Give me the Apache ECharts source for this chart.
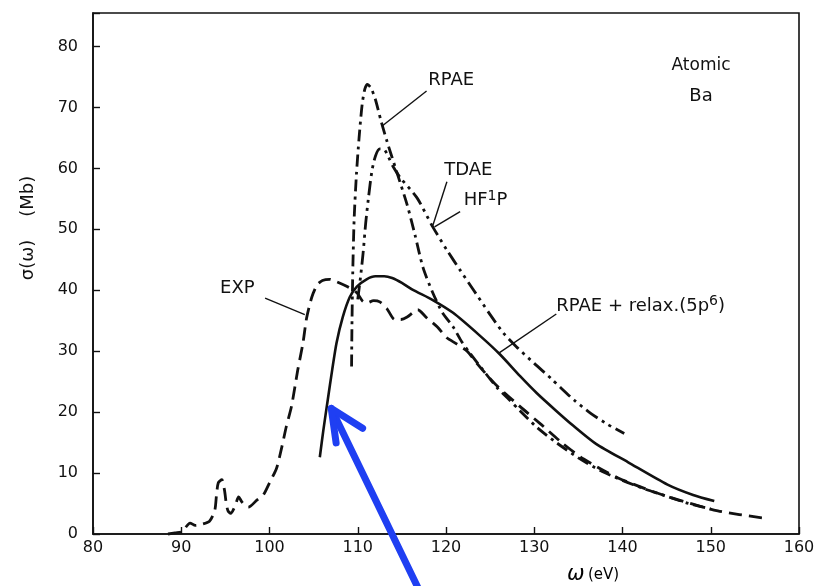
<!DOCTYPE html>
<html><head><meta charset="utf-8">
<script src="https://cdn.jsdelivr.net/npm/echarts@6/dist/echarts.min.js"></script>
<style>html,body{margin:0;padding:0;background:#fff}#c{width:819px;height:586px}</style>
</head><body><div id="c"></div>
<script>
// ---- data ----
const xTickValues = [80, 90, 100, 110, 120, 130, 140, 150, 160];
const yTickValues = [0, 10, 20, 30, 40, 50, 60, 70, 80];

const expData = [[88.5,0],[89.3,0.2],[90.1,0.4],[91,1.8],[91.6,1.4],[92.1,1.5],[93.2,2.1],[93.8,3.9],[94.0,6.5],[94.2,8.4],[94.6,8.9],[94.9,7.2],[95.1,5],[95.3,3.8],[95.6,3.4],[96.1,4.6],[96.5,6.1],[96.9,5.2],[97.6,4.4],[98.6,5.6],[99.3,6.4],[100,8.4],[100.8,10.8],[101.4,14.3],[101.9,17.6],[102.5,21],[103.2,26.9],[103.8,31.4],[104.2,35.4],[104.8,38.9],[105.4,40.9],[106.0,41.6],[106.8,41.8],[107.6,41.4],[108.8,40.6],[109.9,39.6],[110.5,38.3],[111,37.9],[111.8,38.3],[112.5,38.1],[113.3,37],[114.2,35.2],[114.9,35.2],[115.6,35.6],[116.8,36.8],[117.8,35.5],[119,34],[120.1,32.2],[121.2,31.2],[122.4,30],[123.5,28],[125,25.5],[126,24],[128.4,20.9],[130.6,18.2],[133.2,14.9],[135.6,12.3],[139.5,9.2],[144.8,6.3],[150.8,3.8],[156.1,2.6]];

const rpaeData = [[109.3,27.5],[109.35,35],[109.45,44],[109.6,52],[109.85,59],[110.15,65],[110.5,70.5],[110.8,73],[111.1,73.8],[111.5,73.2],[112.0,71.3],[112.6,68],[113.3,64.5],[114.4,59.5],[115.6,54],[116.5,49],[117.4,43.7],[118.5,39.6],[119.6,36.3],[120.8,34],[121.8,31.5],[122.7,29.7],[124.2,26.9],[125.8,24],[127.2,22],[128.4,20.2],[130.3,17.5],[132.5,15],[135,12.5],[137.5,10.4],[140,8.8],[142.5,7.4],[145,6.2],[147.5,5.0],[150,4.1]];

const tdaeData = [[110.0,38.5],[110.3,42],[110.6,46],[110.9,51],[111.2,55],[111.6,59.5],[112.0,62],[112.5,63.2],[113.0,63.1],[113.5,61.8],[114.0,60.3],[114.8,58.5],[116.7,55.2],[118.5,50.4],[120.1,46.6],[121.6,43.3],[123,40.3],[125,36],[126.5,33],[128,30.7],[130,28],[132,25.4],[133,24],[134.5,22],[136.4,19.8],[138.3,18],[140.2,16.5]];

const relaxData = [[105.7,12.6],[106.1,17],[106.6,22],[107.1,26.9],[107.6,31.4],[108.3,35.6],[109.1,38.9],[109.9,40.6],[111.0,41.8],[112.0,42.3],[113.0,42.3],[113.9,42.0],[115,41.2],[116.2,40.1],[118.5,38.4],[120.8,36.3],[123.8,32.6],[126.1,29.5],[128.4,25.9],[130.3,23.1],[132.5,20.2],[134.4,17.8],[137,14.8],[140.6,11.8],[145.1,8.1],[148,6.4],[150.4,5.4]];

const seriesNames = ['EXP', 'RPAE', 'TDAE HF1P', 'RPAE + relax.(5p6)'];
const labelTexts = { rpae: 'RPAE', tdae: 'TDAE', hf: 'HF', hfSup: '1', hfEnd: 'P', exp: 'EXP', relax: 'RPAE + relax.(5p', relaxSup: '6', relaxEnd: ')', atomic: 'Atomic', ba: 'Ba', yName: 'σ(ω)    (Mb)', xName: 'ω', xUnit: '(eV)' };

// ---- chart ----
const INK = '#111';
const FONT = 'DejaVu Sans';
const chart = echarts.init(document.getElementById('c'), null, { renderer: 'canvas' });

function lineSeries(name, data, type, width) {
  return {
    name, type: 'line', data, showSymbol: false, symbol: 'none', smooth: 0.25,
    clip: false, animation: false,
    lineStyle: { color: INK, width, type, cap: 'butt', join: 'round' }
  };
}

chart.setOption({
  animation: false,
  backgroundColor: '#fff',
  grid: { left: 93, right: 20, top: 13, bottom: 52, show: true, borderColor: INK, borderWidth: 1.6, backgroundColor: 'transparent' },
  xAxis: {
    type: 'value', min: xTickValues[0], max: xTickValues[xTickValues.length - 1], interval: 10,
    axisLine: { lineStyle: { color: INK, width: 1.6 } },
    axisTick: { inside: true, length: 7, lineStyle: { color: INK, width: 1.4 } },
    axisLabel: { color: INK, fontSize: 16, fontFamily: FONT, margin: 6 },
    splitLine: { show: false }
  },
  yAxis: {
    type: 'value', min: 0, max: 85.5, interval: 10,
    axisLine: { lineStyle: { color: INK, width: 1.6 } },
    axisTick: { inside: true, length: 7, lineStyle: { color: INK, width: 1.4 } },
    axisLabel: { color: INK, fontSize: 16, fontFamily: FONT, margin: 15,
      formatter: v => (yTickValues.indexOf(v) >= 0 ? String(v) : '') },
    splitLine: { show: false }
  },
  series: [
    lineSeries(seriesNames[0], expData, [13, 7], 2.8),
    lineSeries(seriesNames[1], rpaeData, [12, 5, 3, 5], 2.8),
    lineSeries(seriesNames[2], tdaeData, [14, 5, 3, 5, 3, 5], 2.8),
    lineSeries(seriesNames[3], relaxData, 'solid', 2.6)
  ]
});

function P(x, y) { return chart.convertToPixel({ gridIndex: 0 }, [x, y]); }
function txt(x, y, text, size, align, extra) {
  const p = P(x, y);
  return Object.assign({ type: 'text', x: p[0], y: p[1], z: 100,
    style: { text, fill: INK, font: size + 'px "' + FONT + '"', textAlign: align || 'left', textVerticalAlign: 'middle' } }, extra || {});
}
function richTxt(x, y, parts, size) {
  const p = P(x, y);
  return { type: 'text', x: p[0], y: p[1], z: 100,
    style: { text: parts, fill: INK, textAlign: 'left', textVerticalAlign: 'middle',
      rich: { a: { fontSize: size, fontFamily: FONT, color: INK },
              s: { fontSize: size - 4, fontFamily: FONT, color: INK, padding: [0, 0, 9, 0] } } } };
}
function seg(x1, y1, x2, y2, w) {
  const a = P(x1, y1), b = P(x2, y2);
  return { type: 'line', z: 100, shape: { x1: a[0], y1: a[1], x2: b[0], y2: b[1] }, style: { stroke: INK, lineWidth: w || 1.4 } };
}

const tip = P(107.0, 20.6), w1 = P(110.55, 17.35), w2 = P(107.55, 14.95), tail = P(116.85, -8.9);
const BLUE = '#1f3ff2';

chart.setOption({
  graphic: [
    txt(118.0, 74.4, labelTexts.rpae, 18),
    seg(117.8, 72.7, 112.8, 67.0),
    txt(119.8, 59.6, labelTexts.tdae, 18),
    richTxt(122.0, 54.7, '{a|' + labelTexts.hf + '}{s|' + labelTexts.hfSup + '}{a|' + labelTexts.hfEnd + '}', 18),
    seg(120.1, 57.8, 118.5, 50.6),
    seg(121.6, 52.9, 118.7, 50.4),
    txt(94.4, 40.3, labelTexts.exp, 18),
    seg(99.5, 38.7, 104.0, 36.0),
    richTxt(132.5, 37.4, '{a|' + labelTexts.relax + '}{s|' + labelTexts.relaxSup + '}{a|' + labelTexts.relaxEnd + '}', 18),
    seg(132.5, 36.1, 125.9, 29.6),
    txt(148.9, 76.8, labelTexts.atomic, 17, 'center'),
    txt(148.9, 71.9, labelTexts.ba, 18, 'center'),
    { type: 'text', x: 28, y: 228, rotation: Math.PI / 2, z: 100,
      style: { text: labelTexts.yName, fill: INK, font: '18px "' + FONT + '"', textAlign: 'center', textVerticalAlign: 'middle' } },
    { type: 'text', x: 567, y: 575, z: 100,
      style: { text: '{w|' + labelTexts.xName + '} {u|' + labelTexts.xUnit + '}', textVerticalAlign: 'middle',
        rich: { w: { fontSize: 21, fontFamily: FONT, fontStyle: 'italic', color: INK }, u: { fontSize: 15, fontFamily: FONT, color: INK } } } },
    { type: 'line', z: 200, shape: { x1: tail[0], y1: tail[1], x2: tip[0], y2: tip[1] },
      style: { stroke: BLUE, lineWidth: 7, lineCap: 'round' } },
    { type: 'polyline', z: 200, shape: { points: [w1, tip, w2] },
      style: { stroke: BLUE, lineWidth: 7, lineCap: 'round', lineJoin: 'round', fill: null } }
  ]
});
</script>
</body></html>
